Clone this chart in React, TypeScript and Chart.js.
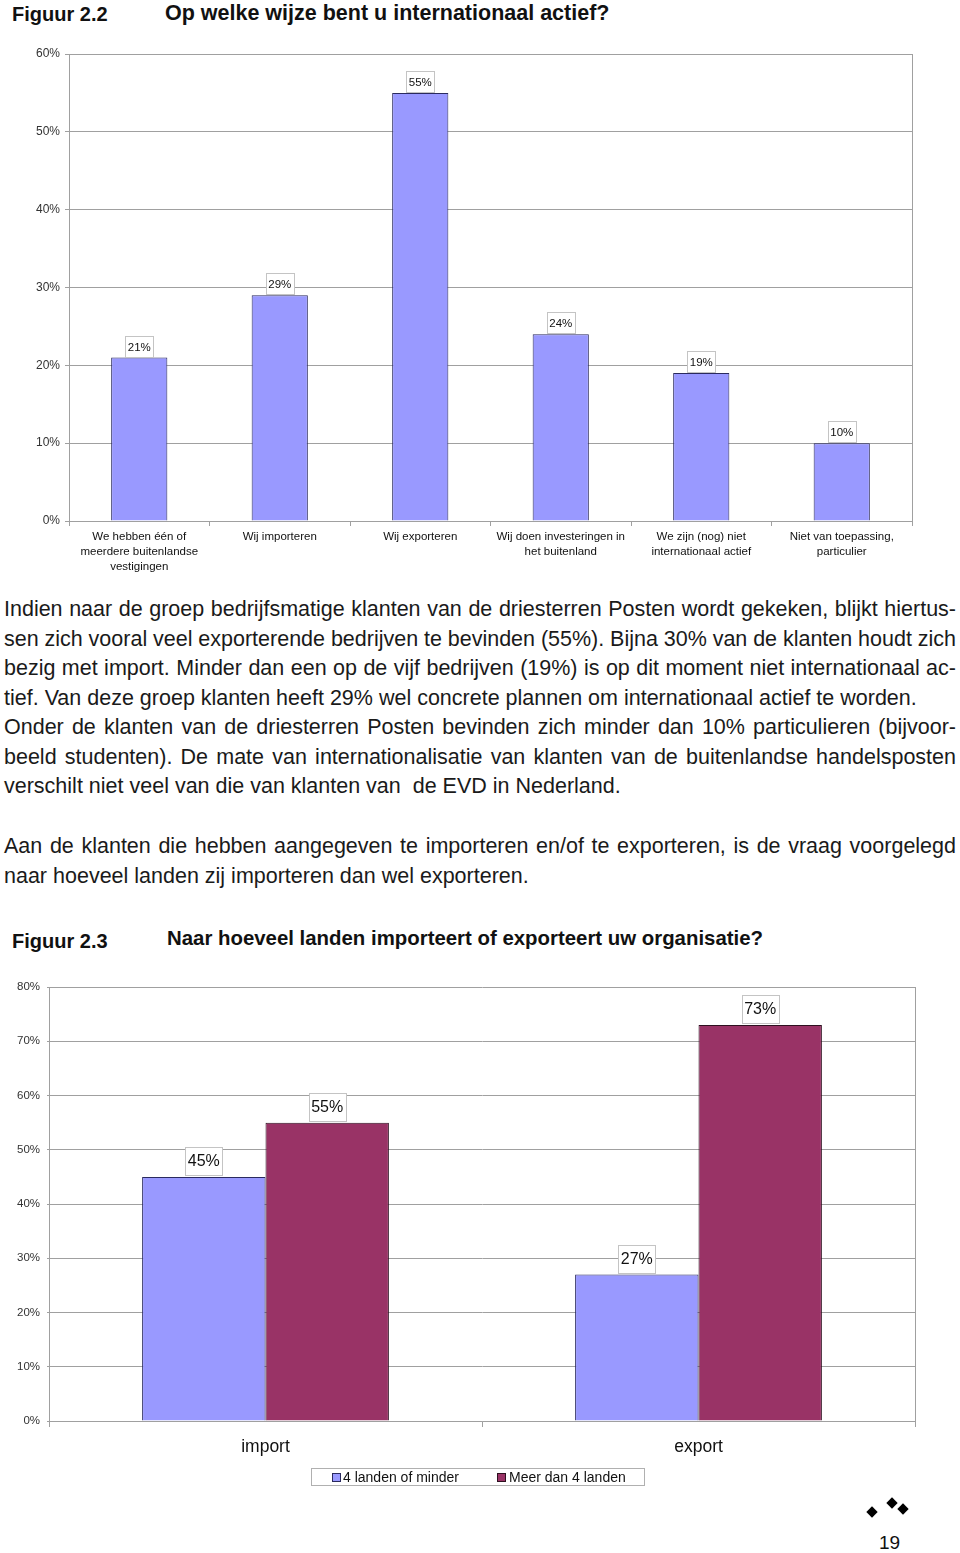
import React, { useEffect, useLayoutEffect, useRef } from 'react';
import { Chart, registerables } from 'chart.js';
Chart.register(...registerables);

const FONT = '"Liberation Sans", Arial, Helvetica, sans-serif';

// ---- Figuur 2.2 data ----
const fig22Categories: string[][] = [
  ['We hebben één of', 'meerdere buitenlandse', 'vestigingen'],
  ['Wij importeren'],
  ['Wij exporteren'],
  ['Wij doen investeringen in', 'het buitenland'],
  ['We zijn (nog) niet', 'internationaal actief'],
  ['Niet van toepassing,', 'particulier'],
];
const fig22Values = [21, 29, 55, 24, 19, 10];
const fig22YMax = 60;
const fig22YStep = 10;

// ---- Figuur 2.3 data ----
const fig23Categories = ['import', 'export'];
const fig23SeriesNames = ['4 landen of minder', 'Meer dan 4 landen'];
const fig23Few = [45, 27];
const fig23Many = [55, 73];
const fig23YMax = 80;
const fig23YStep = 10;

const BLUE = '#9999FF';
const MAROON = '#993366';
const GRID = '#a0a0a0';

const bodyLines: { text: string; justify: boolean }[] = [
  { text: 'Indien naar de groep bedrijfsmatige klanten van de driesterren Posten wordt gekeken, blijkt hiertus-', justify: true },
  { text: 'sen zich vooral veel exporterende bedrijven te bevinden (55%). Bijna 30% van de klanten houdt zich', justify: true },
  { text: 'bezig met import. Minder dan een op de vijf bedrijven (19%) is op dit moment niet internationaal ac-', justify: true },
  { text: 'tief. Van deze groep klanten heeft 29% wel concrete plannen om internationaal actief te worden.', justify: false },
  { text: 'Onder de klanten van de driesterren Posten bevinden zich minder dan 10% particulieren (bijvoor-', justify: true },
  { text: 'beeld studenten). De mate van internationalisatie van klanten van de buitenlandse handelsposten', justify: true },
  { text: 'verschilt niet veel van die van klanten van\u00a0 de EVD in Nederland.', justify: false },
  { text: 'Aan de klanten die hebben aangegeven te importeren en/of te exporteren, is de vraag voorgelegd', justify: true },
  { text: 'naar hoeveel landen zij importeren dan wel exporteren.', justify: false },
];
const bodyLineTops = [599, 629, 658, 688, 717, 747, 776, 836, 866];

function boxLabelPlugin(fontSize: number, padX: number, padY: number, gap: number) {
  return {
    id: 'boxLabels',
    afterDatasetsDraw(chart: any) {
      const ctx = chart.ctx;
      ctx.save();
      ctx.font = `${fontSize}px ${FONT}`;
      chart.data.datasets.forEach((ds: any, di: number) => {
        const meta = chart.getDatasetMeta(di);
        meta.data.forEach((bar: any, i: number) => {
          const text = ds.data[i] + '%';
          const w = Math.round(ctx.measureText(text).width + padX * 2);
          const h = Math.round(fontSize + padY * 2);
          const x = Math.round(bar.x - w / 2);
          const y = Math.round(bar.y - gap - h);
          ctx.fillStyle = '#ffffff';
          ctx.fillRect(x, y, w, h);
          ctx.strokeStyle = '#c4c4c4';
          ctx.lineWidth = 1;
          ctx.strokeRect(x + 0.5, y + 0.5, w, h);
          ctx.fillStyle = '#111111';
          ctx.textAlign = 'center';
          ctx.textBaseline = 'middle';
          ctx.fillText(text, bar.x, y + h / 2 + 1);
        });
      });
      ctx.restore();
    },
  };
}

const rightBorderPlugin = {
  id: 'rightBorder',
  afterDraw(chart: any) {
    const { ctx, chartArea } = chart;
    ctx.save();
    ctx.strokeStyle = GRID;
    ctx.lineWidth = 1;
    ctx.beginPath();
    const x = Math.round(chartArea.right) + 0.5;
    ctx.moveTo(x, chartArea.top);
    ctx.lineTo(x, chartArea.bottom);
    ctx.stroke();
    ctx.restore();
  },
};

function Fig22Chart() {
  const ref = useRef<HTMLCanvasElement>(null);
  useEffect(() => {
    const chart = new Chart(ref.current!, {
      type: 'bar',
      data: {
        labels: fig22Categories as any,
        datasets: [
          {
            data: fig22Values,
            backgroundColor: BLUE,
            borderColor: '#2a2a5e',
            borderWidth: 1,
            barPercentage: 0.4,
            categoryPercentage: 1,
          },
        ],
      },
      options: {
        responsive: false,
        animation: false,
        devicePixelRatio: 1,
        layout: { padding: { top: 54, right: 48, left: 0, bottom: 0 } },
        plugins: { legend: { display: false }, tooltip: { enabled: false } },
        scales: {
          x: {
            grid: { display: true, drawOnChartArea: false, tickLength: 5, color: GRID, offset: true },
            border: { color: GRID },
            ticks: {
              font: { family: FONT, size: 11.5, lineHeight: 1.3 },
              color: '#111',
              padding: 3,
              maxRotation: 0,
              autoSkip: false,
            },
            afterFit: (s: any) => {
              s.height = 70;
            },
          },
          y: {
            min: 0,
            max: fig22YMax,
            ticks: {
              stepSize: fig22YStep,
              callback: (v: any) => v + '%',
              font: { family: FONT, size: 12 },
              color: '#333',
              padding: 5,
            },
            grid: { color: GRID, tickLength: 4 },
            border: { color: GRID },
            afterFit: (s: any) => {
              s.width = 69;
            },
          },
        },
      },
      plugins: [boxLabelPlugin(11.5, 2.5, 4.75, 1), rightBorderPlugin],
    } as any);
    return () => chart.destroy();
  }, []);
  return <canvas ref={ref} width={960} height={591} style={{ position: 'absolute', left: 0, top: 0, width: 960, height: 591 }} />;
}

function Fig23Chart() {
  const ref = useRef<HTMLCanvasElement>(null);
  useEffect(() => {
    const chart = new Chart(ref.current!, {
      type: 'bar',
      data: {
        labels: fig23Categories,
        datasets: [
          {
            label: fig23SeriesNames[0],
            data: fig23Few,
            backgroundColor: BLUE,
            borderColor: '#2a2a5e',
            borderWidth: 1,
            barPercentage: 1,
            categoryPercentage: 0.57,
          },
          {
            label: fig23SeriesNames[1],
            data: fig23Many,
            backgroundColor: MAROON,
            borderColor: '#2e1020',
            borderWidth: 1,
            barPercentage: 1,
            categoryPercentage: 0.57,
          },
        ],
      },
      options: {
        responsive: false,
        animation: false,
        devicePixelRatio: 1,
        layout: { padding: { top: 27, right: 45, left: 0, bottom: 0 } },
        plugins: { legend: { display: false }, tooltip: { enabled: false } },
        scales: {
          x: {
            grid: { display: true, drawOnChartArea: false, tickLength: 6, color: GRID, offset: true },
            border: { color: GRID },
            ticks: {
              font: { family: FONT, size: 17.5 },
              color: '#111',
              padding: 10,
              maxRotation: 0,
              autoSkip: false,
            },
            afterFit: (s: any) => {
              s.height = 60;
            },
          },
          y: {
            min: 0,
            max: fig23YMax,
            ticks: {
              stepSize: fig23YStep,
              callback: (v: any) => v + '%',
              font: { family: FONT, size: 11.5 },
              color: '#333',
              padding: 7,
            },
            grid: { color: GRID, tickLength: 2 },
            border: { color: GRID },
            afterFit: (s: any) => {
              s.width = 49;
            },
          },
        },
      },
      plugins: [boxLabelPlugin(16, 2.5, 6, 2), rightBorderPlugin],
    } as any);
    return () => chart.destroy();
  }, []);
  return <canvas ref={ref} width={960} height={521} style={{ position: 'absolute', left: 0, top: 960, width: 960, height: 521 }} />;
}

const abs = (left: number, top: number, extra: React.CSSProperties = {}): React.CSSProperties => ({
  position: 'absolute',
  left,
  top,
  lineHeight: 1,
  whiteSpace: 'nowrap',
  fontFamily: FONT,
  color: '#111',
  ...extra,
});

// One text line; justified lines get word-spacing so they end exactly at the right margin.
function BodyLine({ text, justify, top }: { text: string; justify: boolean; top: number }) {
  const ref = useRef<HTMLDivElement>(null);
  useLayoutEffect(() => {
    const el = ref.current;
    if (!el || !justify) return;
    el.style.wordSpacing = '0px';
    const natural = el.getBoundingClientRect().width;
    const spaces = (text.match(/ /g) || []).length;
    const target = 952;
    if (spaces > 0) el.style.wordSpacing = `${(target - natural) / spaces}px`;
  }, [text, justify]);
  return (
    <div ref={ref} style={abs(4, top, { fontSize: 21.5, color: '#1a1a1a' })}>
      {text}
    </div>
  );
}

function Diamond({ x, y }: { x: number; y: number }) {
  return (
    <div
      style={{
        position: 'absolute',
        left: x - 4,
        top: y - 4,
        width: 8,
        height: 8,
        background: '#000',
        transform: 'rotate(45deg)',
      }}
    />
  );
}

export default function App() {
  return (
    <div style={{ position: 'absolute', left: 0, top: 0, width: 960, height: 1553, background: '#fff', overflow: 'hidden' }}>
      <div style={abs(12, 4, { fontSize: 20, fontWeight: 'bold' })}>Figuur 2.2</div>
      <div style={abs(165, 3, { fontSize: 21.5, fontWeight: 'bold' })}>Op welke wijze bent u internationaal actief?</div>

      <Fig22Chart />

      {bodyLines.map((l, i) => (
        <BodyLine key={i} text={l.text} justify={l.justify} top={bodyLineTops[i]} />
      ))}

      <div style={abs(12, 931, { fontSize: 20, fontWeight: 'bold' })}>Figuur 2.3</div>
      <div style={abs(167, 928, { fontSize: 20.4, fontWeight: 'bold' })}>Naar hoeveel landen importeert of exporteert uw organisatie?</div>

      <Fig23Chart />

      <div
        style={{
          position: 'absolute',
          left: 311,
          top: 1468,
          width: 332,
          height: 16,
          border: '1px solid #b0b0b0',
          fontFamily: FONT,
          fontSize: 14,
          lineHeight: '16px',
          color: '#111',
          whiteSpace: 'nowrap',
        }}
      >
        <div style={{ position: 'absolute', left: 20, top: 4, width: 7, height: 7, background: BLUE, border: '1px solid #2a2a5e' }} />
        <div style={{ position: 'absolute', left: 31, top: 0 }}>{fig23SeriesNames[0]}</div>
        <div style={{ position: 'absolute', left: 185, top: 4, width: 7, height: 7, background: MAROON, border: '1px solid #2e1020' }} />
        <div style={{ position: 'absolute', left: 197, top: 0 }}>{fig23SeriesNames[1]}</div>
      </div>

      <Diamond x={872} y={1512} />
      <Diamond x={892} y={1503} />
      <Diamond x={903} y={1509} />
      <div style={abs(879, 1533, { fontSize: 19 })}>19</div>
    </div>
  );
}
